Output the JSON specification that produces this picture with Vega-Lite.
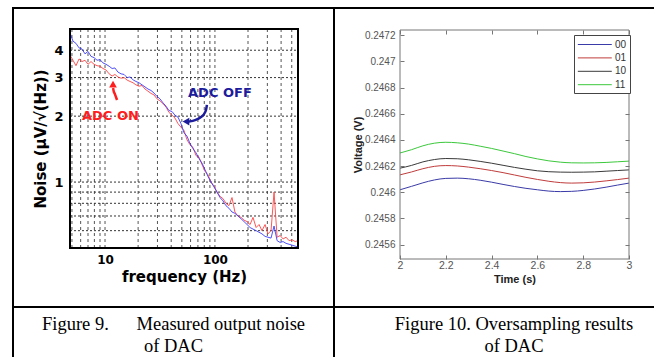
{
"$schema": "https://vega.github.io/schema/vega-lite/v6.json",
"padding": {"left": 12, "top": 7, "right": 0, "bottom": 0},
"background": "white",
"columns": 2,
"spacing": 0,
"bounds": "flush",
"align": "each",
"resolve": {"scale": {"color": "independent"}, "legend": {"color": "independent"}},
"config": {"view": {"stroke": null}, "font": "DejaVu Sans"},
"datasets": {
"noise": [
{"f":4.8,"v":3.8,"s":"ADC ON"},{"f":5.11,"v":3.6,"s":"ADC ON"},{"f":5.44,"v":3.4,"s":"ADC ON"},{"f":5.8,"v":3.65,"s":"ADC ON"},{"f":6.17,"v":3.55,"s":"ADC ON"},{"f":6.57,"v":3.6,"s":"ADC ON"},{"f":7.0,"v":3.45,"s":"ADC ON"},{"f":7.46,"v":3.55,"s":"ADC ON"},{"f":7.94,"v":3.45,"s":"ADC ON"},{"f":8.46,"v":3.4,"s":"ADC ON"},{"f":9.0,"v":3.38,"s":"ADC ON"},{"f":9.59,"v":3.3,"s":"ADC ON"},{"f":10.2,"v":3.25,"s":"ADC ON"},{"f":10.9,"v":3.12,"s":"ADC ON"},{"f":11.6,"v":3.05,"s":"ADC ON"},{"f":12.3,"v":3.1,"s":"ADC ON"},{"f":13.1,"v":3.02,"s":"ADC ON"},{"f":14.0,"v":2.98,"s":"ADC ON"},{"f":14.9,"v":3.0,"s":"ADC ON"},{"f":15.9,"v":2.92,"s":"ADC ON"},{"f":16.9,"v":2.88,"s":"ADC ON"},{"f":18.0,"v":2.84,"s":"ADC ON"},{"f":19.1,"v":2.78,"s":"ADC ON"},{"f":20.4,"v":2.74,"s":"ADC ON"},{"f":21.7,"v":2.76,"s":"ADC ON"},{"f":23.1,"v":2.66,"s":"ADC ON"},{"f":24.6,"v":2.6,"s":"ADC ON"},{"f":26.2,"v":2.54,"s":"ADC ON"},{"f":27.9,"v":2.5,"s":"ADC ON"},{"f":29.7,"v":2.4,"s":"ADC ON"},{"f":31.6,"v":2.35,"s":"ADC ON"},{"f":33.7,"v":2.28,"s":"ADC ON"},{"f":35.9,"v":2.2,"s":"ADC ON"},{"f":38.2,"v":2.08,"s":"ADC ON"},{"f":40.7,"v":2.02,"s":"ADC ON"},{"f":43.3,"v":1.96,"s":"ADC ON"},{"f":46.1,"v":1.85,"s":"ADC ON"},{"f":49.1,"v":1.78,"s":"ADC ON"},{"f":52.3,"v":1.72,"s":"ADC ON"},{"f":55.7,"v":1.56,"s":"ADC ON"},{"f":59.3,"v":1.48,"s":"ADC ON"},{"f":63.2,"v":1.44,"s":"ADC ON"},{"f":67.3,"v":1.32,"s":"ADC ON"},{"f":71.6,"v":1.3,"s":"ADC ON"},{"f":76.3,"v":1.2,"s":"ADC ON"},{"f":81.2,"v":1.12,"s":"ADC ON"},{"f":86.5,"v":1.08,"s":"ADC ON"},{"f":92.1,"v":1.0,"s":"ADC ON"},{"f":98.1,"v":0.96,"s":"ADC ON"},{"f":104.5,"v":0.9,"s":"ADC ON"},{"f":111.3,"v":0.86,"s":"ADC ON"},{"f":118.5,"v":0.84,"s":"ADC ON"},{"f":126,"v":0.8,"s":"ADC ON"},{"f":134,"v":0.78,"s":"ADC ON"},{"f":143,"v":0.85,"s":"ADC ON"},{"f":152,"v":0.73,"s":"ADC ON"},{"f":162,"v":0.7,"s":"ADC ON"},{"f":173,"v":0.69,"s":"ADC ON"},{"f":184,"v":0.67,"s":"ADC ON"},{"f":196,"v":0.66,"s":"ADC ON"},{"f":209,"v":0.64,"s":"ADC ON"},{"f":222,"v":0.69,"s":"ADC ON"},{"f":237,"v":0.62,"s":"ADC ON"},{"f":252,"v":0.64,"s":"ADC ON"},{"f":268,"v":0.6,"s":"ADC ON"},{"f":286,"v":0.64,"s":"ADC ON"},{"f":304,"v":0.58,"s":"ADC ON"},{"f":324,"v":0.6,"s":"ADC ON"},{"f":345,"v":0.9,"s":"ADC ON"},{"f":368,"v":0.56,"s":"ADC ON"},{"f":392,"v":0.57,"s":"ADC ON"},{"f":417,"v":0.55,"s":"ADC ON"},{"f":444,"v":0.56,"s":"ADC ON"},{"f":473,"v":0.54,"s":"ADC ON"},{"f":504,"v":0.545,"s":"ADC ON"},{"f":537,"v":0.535,"s":"ADC ON"},{"f":570,"v":0.54,"s":"ADC ON"},
{"f":4.8,"v":4.8,"s":"ADC OFF"},{"f":5.11,"v":4.4,"s":"ADC OFF"},{"f":5.44,"v":4.3,"s":"ADC OFF"},{"f":5.8,"v":4.1,"s":"ADC OFF"},{"f":6.17,"v":4.05,"s":"ADC OFF"},{"f":6.57,"v":3.85,"s":"ADC OFF"},{"f":7.0,"v":3.95,"s":"ADC OFF"},{"f":7.46,"v":3.75,"s":"ADC OFF"},{"f":7.94,"v":3.7,"s":"ADC OFF"},{"f":8.46,"v":3.6,"s":"ADC OFF"},{"f":9.0,"v":3.62,"s":"ADC OFF"},{"f":9.59,"v":3.5,"s":"ADC OFF"},{"f":10.2,"v":3.45,"s":"ADC OFF"},{"f":10.9,"v":3.38,"s":"ADC OFF"},{"f":11.6,"v":3.3,"s":"ADC OFF"},{"f":12.3,"v":3.32,"s":"ADC OFF"},{"f":13.1,"v":3.18,"s":"ADC OFF"},{"f":14.0,"v":3.12,"s":"ADC OFF"},{"f":14.9,"v":3.1,"s":"ADC OFF"},{"f":15.9,"v":3.0,"s":"ADC OFF"},{"f":16.9,"v":3.02,"s":"ADC OFF"},{"f":18.0,"v":2.93,"s":"ADC OFF"},{"f":19.1,"v":2.88,"s":"ADC OFF"},{"f":20.4,"v":2.84,"s":"ADC OFF"},{"f":21.7,"v":2.78,"s":"ADC OFF"},{"f":23.1,"v":2.72,"s":"ADC OFF"},{"f":24.6,"v":2.66,"s":"ADC OFF"},{"f":26.2,"v":2.62,"s":"ADC OFF"},{"f":27.9,"v":2.55,"s":"ADC OFF"},{"f":29.7,"v":2.46,"s":"ADC OFF"},{"f":31.6,"v":2.4,"s":"ADC OFF"},{"f":33.7,"v":2.3,"s":"ADC OFF"},{"f":35.9,"v":2.22,"s":"ADC OFF"},{"f":38.2,"v":2.12,"s":"ADC OFF"},{"f":40.7,"v":2.1,"s":"ADC OFF"},{"f":43.3,"v":2.02,"s":"ADC OFF"},{"f":46.1,"v":1.98,"s":"ADC OFF"},{"f":49.1,"v":1.85,"s":"ADC OFF"},{"f":52.3,"v":1.68,"s":"ADC OFF"},{"f":55.7,"v":1.62,"s":"ADC OFF"},{"f":59.3,"v":1.5,"s":"ADC OFF"},{"f":63.2,"v":1.42,"s":"ADC OFF"},{"f":67.3,"v":1.36,"s":"ADC OFF"},{"f":71.6,"v":1.28,"s":"ADC OFF"},{"f":76.3,"v":1.22,"s":"ADC OFF"},{"f":81.2,"v":1.14,"s":"ADC OFF"},{"f":86.5,"v":1.06,"s":"ADC OFF"},{"f":92.1,"v":1.0,"s":"ADC OFF"},{"f":98.1,"v":0.95,"s":"ADC OFF"},{"f":104.5,"v":0.9,"s":"ADC OFF"},{"f":111.3,"v":0.85,"s":"ADC OFF"},{"f":118.5,"v":0.82,"s":"ADC OFF"},{"f":126,"v":0.78,"s":"ADC OFF"},{"f":134,"v":0.76,"s":"ADC OFF"},{"f":143,"v":0.73,"s":"ADC OFF"},{"f":152,"v":0.72,"s":"ADC OFF"},{"f":162,"v":0.7,"s":"ADC OFF"},{"f":173,"v":0.68,"s":"ADC OFF"},{"f":184,"v":0.66,"s":"ADC OFF"},{"f":196,"v":0.64,"s":"ADC OFF"},{"f":209,"v":0.62,"s":"ADC OFF"},{"f":222,"v":0.61,"s":"ADC OFF"},{"f":237,"v":0.6,"s":"ADC OFF"},{"f":252,"v":0.59,"s":"ADC OFF"},{"f":268,"v":0.58,"s":"ADC OFF"},{"f":286,"v":0.565,"s":"ADC OFF"},{"f":304,"v":0.56,"s":"ADC OFF"},{"f":324,"v":0.555,"s":"ADC OFF"},{"f":345,"v":0.63,"s":"ADC OFF"},{"f":368,"v":0.54,"s":"ADC OFF"},{"f":392,"v":0.53,"s":"ADC OFF"},{"f":417,"v":0.535,"s":"ADC OFF"},{"f":444,"v":0.525,"s":"ADC OFF"},{"f":473,"v":0.52,"s":"ADC OFF"},{"f":504,"v":0.515,"s":"ADC OFF"},{"f":537,"v":0.51,"s":"ADC OFF"},{"f":570,"v":0.505,"s":"ADC OFF"}
],
"osr": [
{"t":2.0,"v":0.246019,"c":"00"},{"t":2.05,"v":0.246045,"c":"00"},{"t":2.1,"v":0.246072,"c":"00"},{"t":2.15,"v":0.246094,"c":"00"},{"t":2.2,"v":0.246106,"c":"00"},{"t":2.25,"v":0.246108,"c":"00"},{"t":2.3,"v":0.246103,"c":"00"},{"t":2.35,"v":0.246092,"c":"00"},{"t":2.4,"v":0.246077,"c":"00"},{"t":2.45,"v":0.24606,"c":"00"},{"t":2.5,"v":0.246044,"c":"00"},{"t":2.55,"v":0.24603,"c":"00"},{"t":2.6,"v":0.246019,"c":"00"},{"t":2.65,"v":0.246009,"c":"00"},{"t":2.7,"v":0.246005,"c":"00"},{"t":2.75,"v":0.246007,"c":"00"},{"t":2.8,"v":0.246014,"c":"00"},{"t":2.85,"v":0.246025,"c":"00"},{"t":2.9,"v":0.246039,"c":"00"},{"t":2.95,"v":0.246055,"c":"00"},{"t":3.0,"v":0.24607,"c":"00"},
{"t":2.0,"v":0.246133,"c":"01"},{"t":2.05,"v":0.246155,"c":"01"},{"t":2.1,"v":0.24618,"c":"01"},{"t":2.15,"v":0.246198,"c":"01"},{"t":2.2,"v":0.246204,"c":"01"},{"t":2.25,"v":0.246201,"c":"01"},{"t":2.3,"v":0.246192,"c":"01"},{"t":2.35,"v":0.24618,"c":"01"},{"t":2.4,"v":0.246166,"c":"01"},{"t":2.45,"v":0.24615,"c":"01"},{"t":2.5,"v":0.246132,"c":"01"},{"t":2.55,"v":0.246114,"c":"01"},{"t":2.6,"v":0.246098,"c":"01"},{"t":2.65,"v":0.246084,"c":"01"},{"t":2.7,"v":0.246074,"c":"01"},{"t":2.75,"v":0.24607,"c":"01"},{"t":2.8,"v":0.246072,"c":"01"},{"t":2.85,"v":0.246078,"c":"01"},{"t":2.9,"v":0.246087,"c":"01"},{"t":2.95,"v":0.246097,"c":"01"},{"t":3.0,"v":0.246108,"c":"01"},
{"t":2.0,"v":0.246184,"c":"10"},{"t":2.05,"v":0.246205,"c":"10"},{"t":2.1,"v":0.246232,"c":"10"},{"t":2.15,"v":0.24625,"c":"10"},{"t":2.2,"v":0.246258,"c":"10"},{"t":2.25,"v":0.246256,"c":"10"},{"t":2.3,"v":0.246248,"c":"10"},{"t":2.35,"v":0.246236,"c":"10"},{"t":2.4,"v":0.246222,"c":"10"},{"t":2.45,"v":0.246206,"c":"10"},{"t":2.5,"v":0.24619,"c":"10"},{"t":2.55,"v":0.246176,"c":"10"},{"t":2.6,"v":0.246164,"c":"10"},{"t":2.65,"v":0.246157,"c":"10"},{"t":2.7,"v":0.246154,"c":"10"},{"t":2.75,"v":0.246153,"c":"10"},{"t":2.8,"v":0.246154,"c":"10"},{"t":2.85,"v":0.246156,"c":"10"},{"t":2.9,"v":0.246161,"c":"10"},{"t":2.95,"v":0.246166,"c":"10"},{"t":3.0,"v":0.246171,"c":"10"},
{"t":2.0,"v":0.2463,"c":"11"},{"t":2.05,"v":0.246325,"c":"11"},{"t":2.1,"v":0.246355,"c":"11"},{"t":2.15,"v":0.246375,"c":"11"},{"t":2.2,"v":0.246382,"c":"11"},{"t":2.25,"v":0.246378,"c":"11"},{"t":2.3,"v":0.246368,"c":"11"},{"t":2.35,"v":0.246352,"c":"11"},{"t":2.4,"v":0.246335,"c":"11"},{"t":2.45,"v":0.246315,"c":"11"},{"t":2.5,"v":0.246295,"c":"11"},{"t":2.55,"v":0.246273,"c":"11"},{"t":2.6,"v":0.246255,"c":"11"},{"t":2.65,"v":0.24624,"c":"11"},{"t":2.7,"v":0.24623,"c":"11"},{"t":2.75,"v":0.246225,"c":"11"},{"t":2.8,"v":0.246224,"c":"11"},{"t":2.85,"v":0.246225,"c":"11"},{"t":2.9,"v":0.246228,"c":"11"},{"t":2.95,"v":0.246233,"c":"11"},{"t":3.0,"v":0.246238,"c":"11"}
]
},
"concat": [
{
 "width": 321, "height": 299,
 "view": {"stroke": "black", "strokeWidth": 2},
 "layer": [
  {
   "data": {"values": [{"f":5},{"f":6},{"f":7},{"f":8},{"f":9},{"f":10},{"f":20},{"f":30},{"f":40},{"f":50},{"f":60},{"f":70},{"f":80},{"f":90},{"f":100},{"f":200},{"f":300},{"f":400},{"f":500}]},
   "mark": {"type": "rule", "color": "#555", "strokeDash": [3, 3], "strokeWidth": 1},
   "encoding": {"x": {"field": "f", "type": "quantitative"}, "y": {"datum": 0.5}, "y2": {"datum": 5}}
  },
  {
   "data": {"values": [{"v":0.6},{"v":0.7},{"v":0.8},{"v":0.9},{"v":1},{"v":2},{"v":3},{"v":4}]},
   "mark": {"type": "rule", "color": "#333", "strokeDash": [2, 2], "strokeWidth": 1},
   "encoding": {"y": {"field": "v", "type": "quantitative"}, "x": {"datum": 4.8}, "x2": {"datum": 570}}
  },
  {
   "data": {"name": "noise"},
   "mark": {"type": "line", "strokeWidth": 1, "opacity": 0.9},
   "encoding": {
    "x": {"field": "f", "type": "quantitative",
      "scale": {"type": "log", "domain": [4.8, 570], "range": [57, 285], "nice": false},
      "axis": {"orient": "bottom", "offset": -59, "values": [10, 100],
        "format": "d",
        "ticks": false, "domain": false, "grid": false,
        "labelFont": "DejaVu Sans", "labelFontWeight": "bold", "labelFontSize": 12, "labelColor": "black", "labelPadding": 6,
        "labelFlush": false, "labelOverlap": false,
        "title": "frequency (Hz)", "titleFont": "DejaVu Sans", "titleFontSize": 15, "titleFontWeight": "bold", "titleColor": "black", "titlePadding": 4}},
    "y": {"field": "v", "type": "quantitative",
      "scale": {"type": "log", "domain": [0.5, 5], "range": [240, 21], "nice": false},
      "axis": {"orient": "left", "offset": -57, "values": [1, 2, 3, 4],
        "format": "d",
        "ticks": false, "domain": false, "grid": false,
        "labelFont": "DejaVu Sans", "labelFontWeight": "bold", "labelFontSize": 13, "labelColor": "black", "labelPadding": 7,
        "labelFlush": false, "labelOverlap": false,
        "title": "Noise (µV/√(Hz))", "titleFont": "DejaVu Sans", "titleFontSize": 15, "titleFontWeight": "bold", "titleColor": "black", "titlePadding": 5}},
    "color": {"field": "s", "type": "nominal", "scale": {"domain": ["ADC ON", "ADC OFF"], "range": ["#ff4444", "#3c3cff"]}, "legend": null}
   }
  },
  {
   "data": {"values": [{"f": 4.8, "f2": 570, "v": 0.5, "v2": 5}]},
   "mark": {"type": "rect", "filled": false, "color": "black", "strokeWidth": 2},
   "encoding": {"x": {"field": "f", "type": "quantitative"}, "x2": {"field": "f2"}, "y": {"field": "v", "type": "quantitative"}, "y2": {"field": "v2"}}
  },
  {
   "data": {"values": [{"f": 11.2, "v": 2.0, "label": "ADC ON"}]},
   "mark": {"type": "text", "font": "DejaVu Sans", "fontWeight": "bold", "fontSize": 13, "color": "#ff1e1e"},
   "encoding": {"x": {"field": "f", "type": "quantitative"}, "y": {"field": "v", "type": "quantitative"}, "text": {"field": "label"}}
  },
  {
   "data": {"values": [{"f": 111, "v": 2.55, "label": "ADC OFF"}]},
   "mark": {"type": "text", "font": "DejaVu Sans", "fontWeight": "bold", "fontSize": 13, "color": "#1c1c9c"},
   "encoding": {"x": {"field": "f", "type": "quantitative"}, "y": {"field": "v", "type": "quantitative"}, "text": {"field": "label"}}
  },
  {
   "data": {"values": [{"f": 12.86, "v": 2.37, "o": 1}, {"f": 12.3, "v": 2.52, "o": 2}, {"f": 11.95, "v": 2.62, "o": 3}, {"f": 11.85, "v": 2.69, "o": 4}]},
   "mark": {"type": "line", "strokeWidth": 2.5, "color": "#ff1e1e", "interpolate": "monotone"},
   "encoding": {"x": {"field": "f", "type": "quantitative"}, "y": {"field": "v", "type": "quantitative"}, "order": {"field": "o"}}
  },
  {
   "data": {"values": [{"f": 11.82, "v": 2.8}]},
   "mark": {"type": "point", "shape": "triangle-up", "filled": true, "size": 60, "color": "#ff1e1e", "opacity": 1},
   "encoding": {"x": {"field": "f", "type": "quantitative"}, "y": {"field": "v", "type": "quantitative"}}
  },
  {
   "data": {"values": [{"f": 84.5, "v": 2.25, "o": 1}, {"f": 82.8, "v": 2.09, "o": 2}, {"f": 76.2, "v": 1.98, "o": 3}, {"f": 65.8, "v": 1.91, "o": 4}, {"f": 58.0, "v": 1.89, "o": 5}]},
   "mark": {"type": "line", "strokeWidth": 2.5, "color": "#1c1c9c", "interpolate": "basis"},
   "encoding": {"x": {"field": "f", "type": "quantitative"}, "y": {"field": "v", "type": "quantitative"}, "order": {"field": "o"}}
  },
  {
   "data": {"values": [{"f": 54.5, "v": 1.89}]},
   "mark": {"type": "point", "shape": "triangle-left", "filled": true, "size": 60, "color": "#1c1c9c", "opacity": 1},
   "encoding": {"x": {"field": "f", "type": "quantitative"}, "y": {"field": "v", "type": "quantitative"}}
  }
 ]
},
{
 "width": 320, "height": 299,
 "view": {"stroke": "black", "strokeWidth": 2, "strokeDash": [320, 299, 619]},
 "resolve": {"axis": {"x": "independent", "y": "independent"}},
 "layer": [
  {
   "data": {"name": "osr"},
   "mark": {"type": "line", "strokeWidth": 1, "interpolate": "monotone"},
   "encoding": {
    "x": {"field": "t", "type": "quantitative",
      "scale": {"domain": [2, 3], "range": [66, 295], "nice": false, "zero": false},
      "axis": {"orient": "bottom", "offset": -48, "values": [2, 2.2, 2.4, 2.6, 2.8, 3], "format": "~g",
        "tickSize": -4, "tickColor": "#777", "labelPadding": 5, "domain": false, "grid": false, "labelFlush": false, "labelOverlap": false,
        "labelFont": "Liberation Sans", "labelFontSize": 10.5, "labelColor": "#555",
        "title": "Time (s)", "titleFont": "Liberation Sans", "titleFontSize": 11, "titleFontWeight": "bold", "titleColor": "#222", "titlePadding": 3}},
    "y": {"field": "v", "type": "quantitative",
      "scale": {"domain": [0.24549, 0.24724], "range": [251, 22], "nice": false, "zero": false},
      "axis": {"orient": "left", "offset": -66, "values": [0.2456, 0.2458, 0.246, 0.2462, 0.2464, 0.2466, 0.2468, 0.247, 0.2472], "format": "~g",
        "tickSize": -4, "tickColor": "#777", "labelPadding": 9, "domain": false, "grid": false, "labelFlush": false, "labelOverlap": false,
        "labelFont": "Liberation Sans", "labelFontSize": 10, "labelColor": "#555",
        "title": "Voltage (V)", "titleFont": "Liberation Sans", "titleFontSize": 11, "titleFontWeight": "bold", "titleColor": "#222", "titlePadding": 1}},
    "color": {"field": "c", "type": "nominal",
      "scale": {"domain": ["00", "01", "10", "11"], "range": ["#3a3aa8", "#c03c3c", "#3a3a3a", "#3cc83c"]},
      "legend": {"orient": "none", "legendX": 240, "legendY": 27, "direction": "vertical", "title": null,
        "symbolType": "M-1,0H5", "symbolSize": 128, "symbolStrokeWidth": 1, "labelOffset": 25,
        "labelFont": "Liberation Sans", "labelFontSize": 10, "labelColor": "#333",
        "strokeColor": "#444", "fillColor": "white", "padding": 3, "rowPadding": 1.4}}
   }
  },
  {
   "data": {"values": [{}]},
   "mark": {"type": "rect", "filled": false, "color": "#777", "strokeWidth": 1},
   "encoding": {
    "x": {"datum": 2, "axis": {"orient": "top", "offset": -22, "values": [2, 2.2, 2.4, 2.6, 2.8, 3], "labels": false, "title": null, "domain": false, "grid": false, "tickSize": -4, "tickColor": "#777"}},
    "x2": {"datum": 3},
    "y": {"datum": 0.24549, "axis": {"orient": "right", "offset": -25, "values": [0.2456, 0.2458, 0.246, 0.2462, 0.2464, 0.2466, 0.2468, 0.247, 0.2472], "labels": false, "title": null, "domain": false, "grid": false, "tickSize": -4, "tickColor": "#777"}},
    "y2": {"datum": 0.24724}
   }
  }
 ]
},
{
 "width": 321, "height": 50,
 "view": {"stroke": "black", "strokeWidth": 2, "strokeDash": [371, 321, 50]},
 "data": {"values": [{"line": 1, "text": "Figure 9.\u00a0\u00a0\u00a0\u00a0\u00a0 Measured output noise"}, {"line": 2, "text": "of DAC"}]},
 "mark": {"type": "text", "font": "Liberation Serif", "fontSize": 18.5, "color": "black", "dy": 3},
 "encoding": {
  "y": {"field": "line", "type": "ordinal", "scale": {"type": "point", "padding": 0.59}, "axis": null},
  "text": {"field": "text"}
 }
},
{
 "width": 320, "height": 50,
 "view": {"stroke": "black", "strokeWidth": 2, "strokeDash": [320, 370, 50]},
 "data": {"values": [{"line": 1, "text": "Figure 10. Oversampling results"}, {"line": 2, "text": "of DAC"}]},
 "mark": {"type": "text", "font": "Liberation Serif", "fontSize": 18.5, "color": "black", "dx": 20, "dy": 3},
 "encoding": {
  "y": {"field": "line", "type": "ordinal", "scale": {"type": "point", "padding": 0.59}, "axis": null},
  "text": {"field": "text"}
 }
}
]
}
